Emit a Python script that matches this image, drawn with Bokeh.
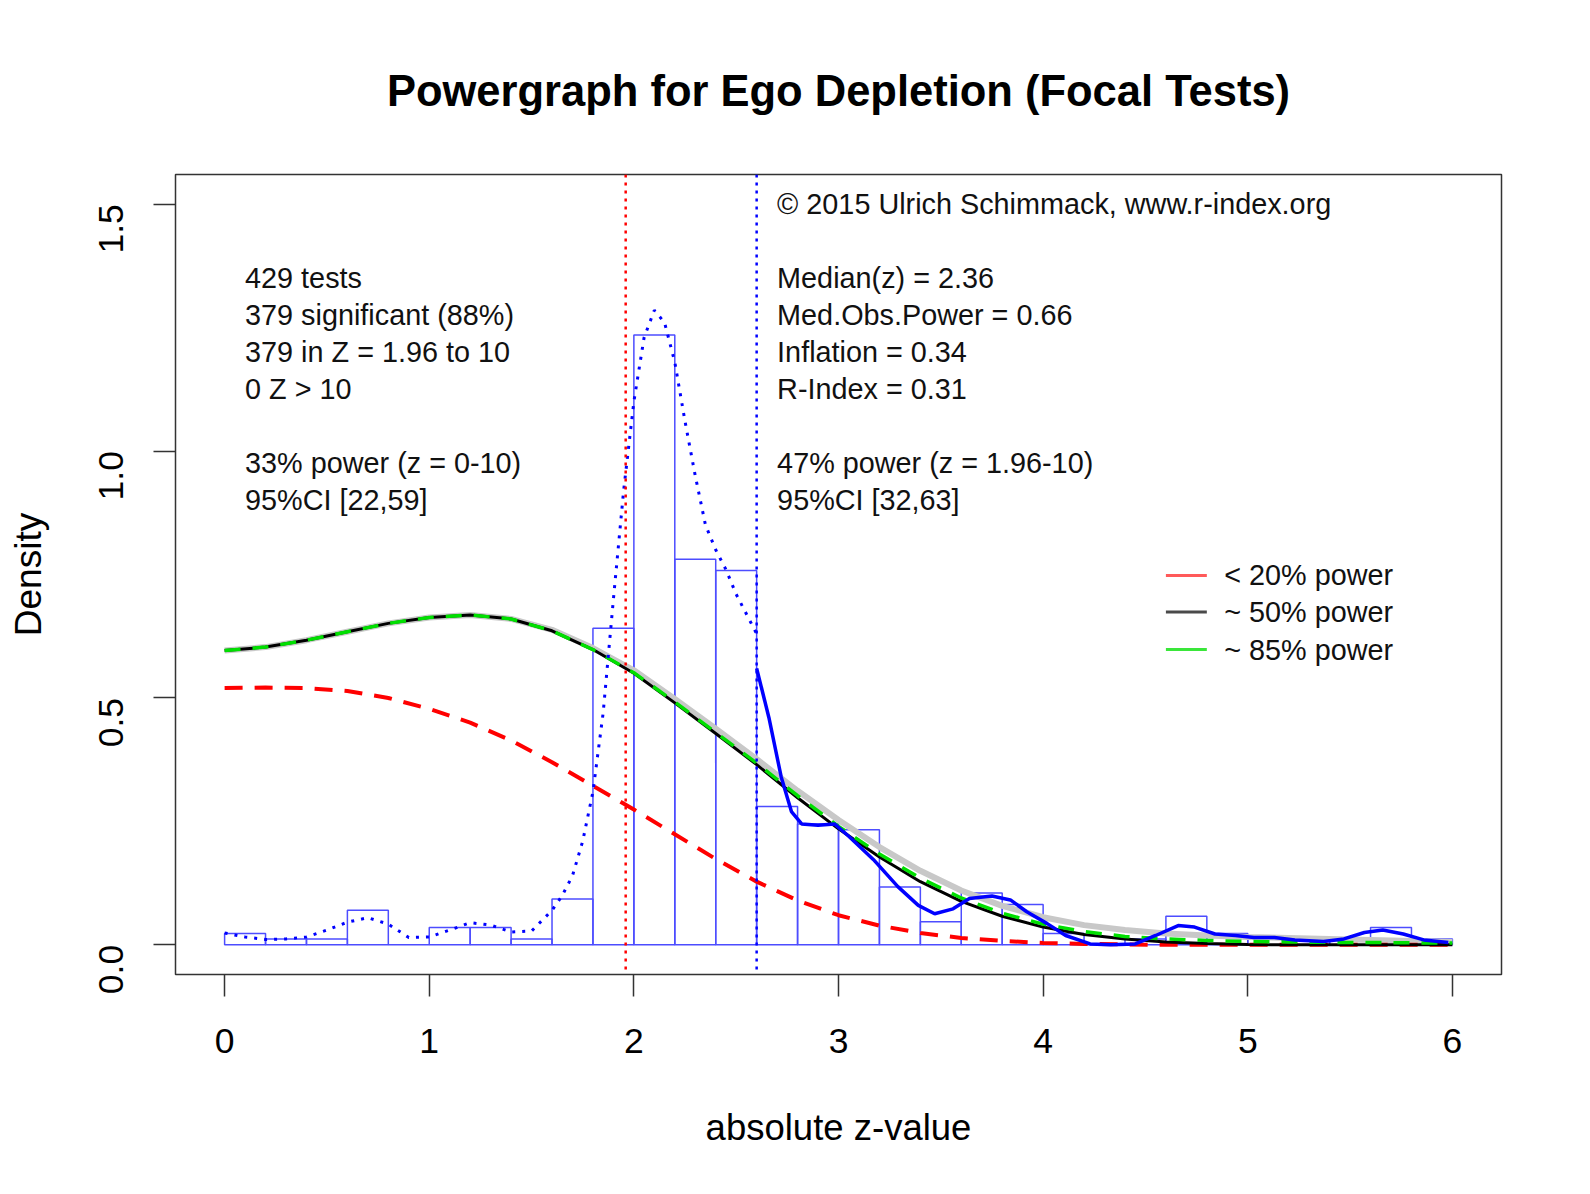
import math
from bokeh.plotting import figure
from bokeh.models import Range1d, FixedTicker, PrintfTickFormatter, Span
from bokeh.core.properties import value
from bokeh.embed import file_html
from bokeh.resources import INLINE

FONT = "Liberation Sans"

# --- histogram of absolute z-values (density scale, bin width 0.2) ---
bin_edges = [0.0, 0.2, 0.4, 0.6, 0.8, 1.0, 1.2, 1.4, 1.6, 1.8, 2.0, 2.2, 2.4, 2.6, 2.8,
             3.0, 3.2, 3.4, 3.6, 3.8, 4.0, 4.2, 4.4, 4.6, 4.8, 5.0, 5.2, 5.4, 5.6, 5.8, 6.0]
hist_density = [0.023, 0.012, 0.012, 0.070, 0.0, 0.035, 0.035, 0.012, 0.093, 0.641,
                1.235, 0.781, 0.758, 0.280, 0.245, 0.233, 0.117, 0.047, 0.105, 0.082,
                0.023, 0.0, 0.012, 0.058, 0.023, 0.012, 0.012, 0.012, 0.035, 0.012]

# --- kernel density of observed z (dotted below 2.6, solid above) ---
kde_low_x = [0.0, 0.1, 0.2, 0.3, 0.4, 0.5, 0.6, 0.7, 0.8, 0.9, 1.0, 1.1, 1.2, 1.3, 1.4,
             1.5, 1.6, 1.65, 1.7, 1.75, 1.8, 1.85, 1.9, 1.95, 2.0, 2.05, 2.1, 2.15, 2.2,
             2.25, 2.3, 2.35, 2.4, 2.45, 2.5, 2.55, 2.6]
kde_low_y = [0.024, 0.016, 0.011, 0.012, 0.016, 0.030, 0.046, 0.055, 0.042, 0.015, 0.016,
             0.030, 0.045, 0.040, 0.026, 0.028, 0.070, 0.100, 0.140, 0.210, 0.310, 0.470,
             0.700, 0.920, 1.100, 1.230, 1.285, 1.260, 1.180, 1.060, 0.950, 0.850, 0.800,
             0.760, 0.710, 0.670, 0.630]
kde_high_x = [2.6, 2.66, 2.72, 2.77, 2.82, 2.9, 2.98, 3.05, 3.17, 3.29, 3.39, 3.47, 3.56,
              3.64, 3.75, 3.84, 3.92, 4.02, 4.11, 4.23, 4.33, 4.45, 4.55, 4.66, 4.74, 4.84,
              4.94, 5.03, 5.13, 5.23, 5.37, 5.47, 5.57, 5.66, 5.76, 5.86, 5.98]
kde_high_y = [0.560, 0.460, 0.340, 0.270, 0.245, 0.242, 0.245, 0.220, 0.173, 0.118, 0.080,
              0.063, 0.073, 0.094, 0.099, 0.091, 0.067, 0.043, 0.019, 0.002, 0.0, 0.002,
              0.019, 0.039, 0.036, 0.022, 0.019, 0.015, 0.015, 0.010, 0.007, 0.012, 0.025,
              0.030, 0.022, 0.010, 0.005]

# --- fitted power curves ---
fit_x = [0.0, 0.2, 0.4, 0.6, 0.8, 1.0, 1.2, 1.4, 1.6, 1.8, 2.0, 2.2, 2.4, 2.6, 2.8, 3.0,
         3.2, 3.4, 3.6, 3.8, 4.0, 4.2, 4.4, 4.6, 4.8, 5.0, 5.2, 5.4, 5.6, 5.8, 6.0]
low_power_y = [0.520, 0.521, 0.520, 0.514, 0.500, 0.478, 0.450, 0.414, 0.370, 0.322, 0.274,
               0.224, 0.174, 0.128, 0.090, 0.060, 0.039, 0.024, 0.014, 0.008, 0.004, 0.002,
               0.001, 0.0, 0.0, 0.0, 0.0, 0.0, 0.0, 0.0, 0.0]
mid_power_y = [0.596, 0.603, 0.617, 0.634, 0.651, 0.663, 0.668, 0.660, 0.636, 0.598, 0.550,
               0.490, 0.428, 0.365, 0.298, 0.235, 0.178, 0.128, 0.088, 0.058, 0.036, 0.021,
               0.012, 0.006, 0.003, 0.001, 0.0, 0.0, 0.0, 0.0, 0.0]
high_power_y = [0.596, 0.603, 0.617, 0.634, 0.651, 0.663, 0.668, 0.660, 0.636, 0.598, 0.551,
                0.492, 0.430, 0.368, 0.302, 0.240, 0.184, 0.135, 0.095, 0.064, 0.042, 0.027,
                0.017, 0.012, 0.009, 0.007, 0.006, 0.005, 0.005, 0.004, 0.004]
boot_y = [0.596, 0.603, 0.617, 0.634, 0.651, 0.663, 0.668, 0.660, 0.638, 0.601, 0.556, 0.498,
          0.438, 0.376, 0.312, 0.253, 0.198, 0.150, 0.110, 0.079, 0.056, 0.040, 0.030, 0.023,
          0.019, 0.016, 0.014, 0.012, 0.010, 0.008, 0.006]

left_text = ["429 tests", "379 significant (88%)", "379 in Z = 1.96 to 10", "0 Z > 10",
             "33% power (z = 0-10)", "95%CI [22,59]"]
right_text = ["Median(z) = 2.36", "Med.Obs.Power = 0.66", "Inflation = 0.34",
              "R-Index = 0.31", "47% power (z = 1.96-10)", "95%CI [32,63]"]
text_rows = [1.35, 1.275, 1.2, 1.125, 0.975, 0.9]
legend_labels = ["< 20% power", "~ 50% power", "~ 85% power"]
legend_colors = ["#ff5a5a", "#4a4a4a", "#3ae63a"]
legend_rows = [0.748, 0.674, 0.598]

p = figure(
    width=1574,
    height=1178,
    x_range=Range1d(-0.24, 6.24),
    y_range=Range1d(-0.06, 1.56),
    toolbar_location=None,
    output_backend="svg",
    min_border_left=175,
    min_border_right=73,
    min_border_top=174,
    min_border_bottom=204,
    title="Powergraph for Ego Depletion (Focal Tests)",
    x_axis_label="absolute z-value",
    y_axis_label="Density",
)
p.background_fill_color = "white"
p.border_fill_color = "white"
p.outline_line_color = "#333333"
p.outline_line_width = 1.5
p.grid.visible = False

p.title.align = "center"
p.title.text_font = FONT
p.title.text_font_size = "43.5px"
p.title.text_font_style = "bold"
p.title.text_color = "black"
p.title.standoff = 119

for ax in (p.xaxis[0], p.yaxis[0]):
    ax.axis_line_color = None
    ax.major_tick_line_color = "#333333"
    ax.major_tick_line_width = 1.5
    ax.major_tick_out = 22
    ax.major_tick_in = 0
    ax.minor_tick_line_color = None
    ax.major_label_text_font = FONT
    ax.major_label_text_font_size = "35.5px"
    ax.major_label_text_color = "black"
    ax.axis_label_text_font = FONT
    ax.axis_label_text_font_style = "normal"
    ax.axis_label_text_color = "black"

p.xaxis.ticker = FixedTicker(ticks=[0, 1, 2, 3, 4, 5, 6])
p.xaxis.major_label_standoff = 32
p.xaxis.axis_label_standoff = 51
p.xaxis.axis_label_text_font_size = "36.5px"
p.yaxis.ticker = FixedTicker(ticks=[0, 0.5, 1.0, 1.5])
p.yaxis.formatter = PrintfTickFormatter(format="%.1f")
p.yaxis.major_label_orientation = math.pi / 2
p.yaxis.major_label_standoff = 42
p.yaxis.axis_label_standoff = 36
p.yaxis.axis_label_text_font_size = "37px"

# histogram bars
p.quad(left=bin_edges[:-1], right=bin_edges[1:], bottom=0, top=hist_density,
       fill_color=None, line_color="#4d4dff", line_width=1.5)

# bootstrap band (light gray) behind the fitted curves
p.line(fit_x, boot_y, line_color="#c8c8c8", line_width=6)
p.line(fit_x, low_power_y, line_color="red", line_width=4, line_dash="18 12")
p.line(fit_x, mid_power_y, line_color="black", line_width=3)
p.line(fit_x, high_power_y, line_color="#00e000", line_width=3.5, line_dash="16 12")

# observed density
p.line(kde_low_x, kde_low_y, line_color="blue", line_width=3, line_dash="3 7")
p.line(kde_high_x, kde_high_y, line_color="blue", line_width=3.5)

# significance / selection thresholds
p.add_layout(Span(location=1.96, dimension="height", line_color="red",
                  line_width=2.5, line_dash="3 5"))
p.add_layout(Span(location=2.6, dimension="height", line_color="blue",
                  line_width=2.5, line_dash="3 5"))

# annotations
p.text(x=[0.1] * len(left_text), y=text_rows, text=left_text,
       text_font=value(FONT), text_font_size="28.8px", text_color="#111111",
       text_baseline="middle", text_align="left")
p.text(x=[2.7] * len(right_text), y=text_rows, text=right_text,
       text_font=value(FONT), text_font_size="28.8px", text_color="#111111",
       text_baseline="middle", text_align="left")
p.text(x=[2.7], y=[1.5], text=["\u00a9 2015 Ulrich Schimmack, www.r-index.org"],
       text_font=value(FONT), text_font_size="28.8px", text_color="#111111",
       text_baseline="middle", text_align="left")

# legend drawn by hand like R's legend()
p.segment(x0=[4.6] * 3, x1=[4.8] * 3, y0=legend_rows, y1=legend_rows,
          line_color=legend_colors, line_width=3)
p.text(x=[4.885] * 3, y=legend_rows, text=legend_labels,
       text_font=value(FONT), text_font_size="28.8px", text_color="#111111",
       text_baseline="middle", text_align="left")

open("out.html", "w").write(file_html(p, INLINE))
